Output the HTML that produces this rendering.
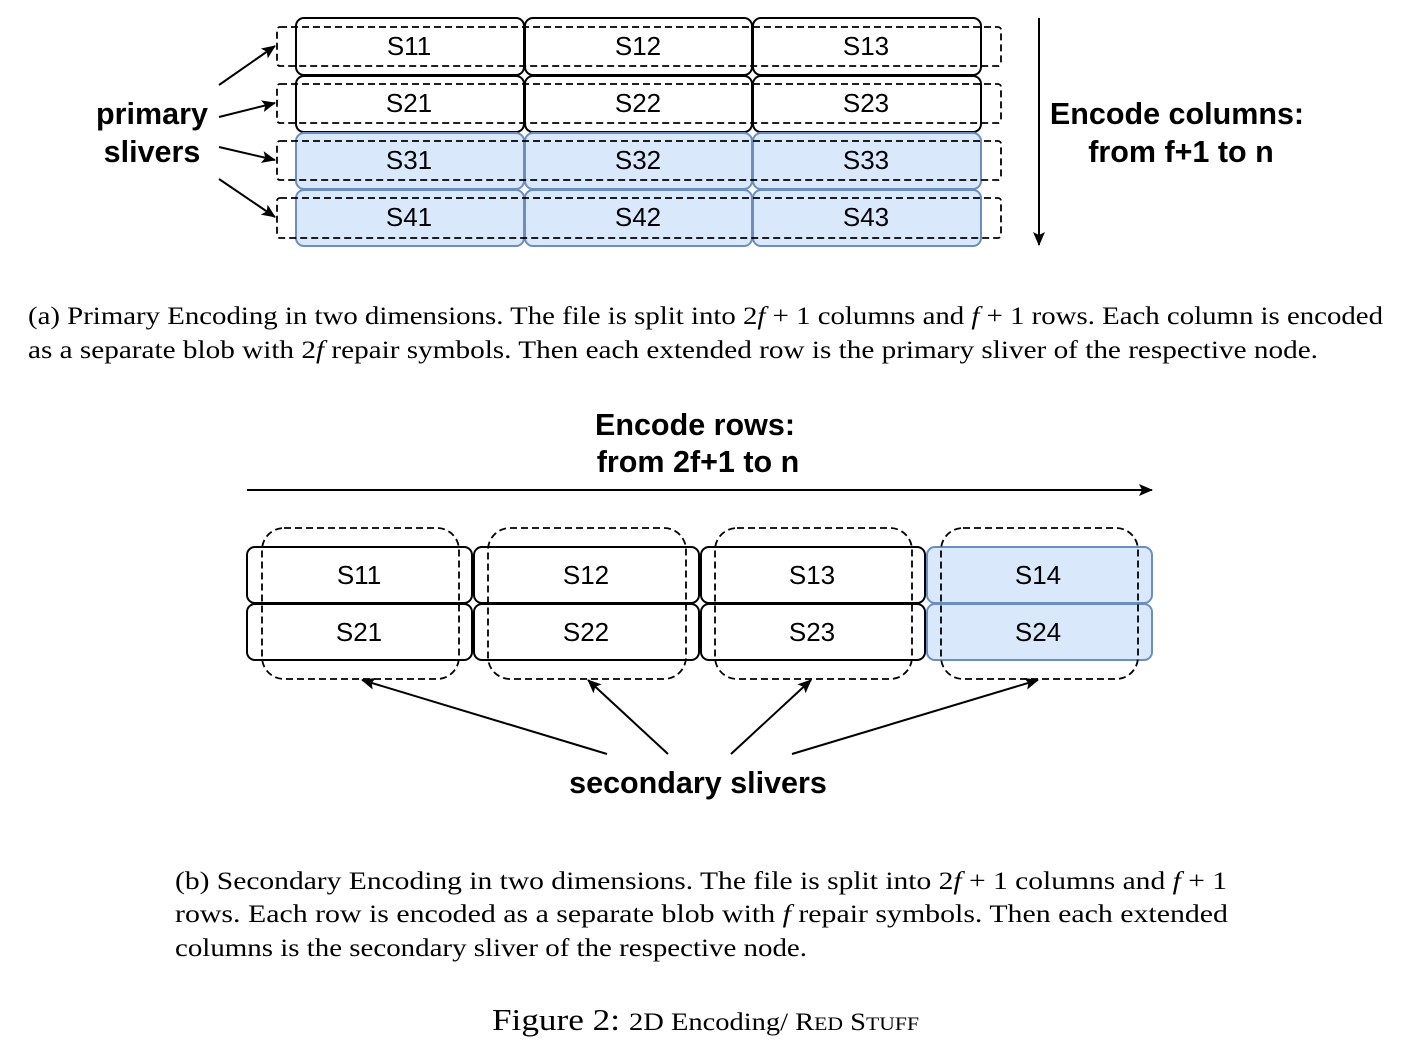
<!DOCTYPE html>
<html><head><meta charset="utf-8"><style>
html,body{margin:0;padding:0;background:#fff;}
svg{display:block;}
.d{font-family:"Liberation Sans",Arial,sans-serif;}
.s{font-family:"Liberation Serif","DejaVu Serif",serif;}
</style></head><body>
<svg width="1401" height="1046" viewBox="0 0 1401 1046" xmlns="http://www.w3.org/2000/svg">
<defs>
<marker id="ah2" markerWidth="14" markerHeight="14" refX="13" refY="7" orient="auto" markerUnits="userSpaceOnUse" viewBox="0 0 14 14">
<path d="M0,1 L14,7 L0,13 L3,7 Z" fill="#000"/>
</marker>
</defs>

<g stroke-width="2">
<rect x="296" y="18" width="228" height="57" rx="8" fill="#fff" stroke="#000"/>
<rect x="525" y="18" width="227" height="57" rx="8" fill="#fff" stroke="#000"/>
<rect x="753" y="18" width="228" height="57" rx="8" fill="#fff" stroke="#000"/>
<rect x="296" y="76" width="228" height="56" rx="8" fill="#fff" stroke="#000"/>
<rect x="525" y="76" width="227" height="56" rx="8" fill="#fff" stroke="#000"/>
<rect x="753" y="76" width="228" height="56" rx="8" fill="#fff" stroke="#000"/>
<rect x="296" y="133" width="228" height="56" rx="8" fill="#dae8fc" stroke="#6c8ebf"/>
<rect x="525" y="133" width="227" height="56" rx="8" fill="#dae8fc" stroke="#6c8ebf"/>
<rect x="753" y="133" width="228" height="56" rx="8" fill="#dae8fc" stroke="#6c8ebf"/>
<rect x="296" y="190" width="228" height="56" rx="8" fill="#dae8fc" stroke="#6c8ebf"/>
<rect x="525" y="190" width="227" height="56" rx="8" fill="#dae8fc" stroke="#6c8ebf"/>
<rect x="753" y="190" width="228" height="56" rx="8" fill="#dae8fc" stroke="#6c8ebf"/>
</g>
<g fill="none" stroke="#000" stroke-width="1.8" stroke-dasharray="7,4">
<rect x="277" y="27" width="724" height="39" rx="3"/>
<rect x="277" y="84" width="724" height="39" rx="3"/>
<rect x="277" y="141" width="724" height="39" rx="3"/>
<rect x="277" y="198" width="724" height="40" rx="3"/>
</g>
<g class="d" font-size="26" text-anchor="middle" fill="#000">
<text x="409" y="55">S11</text><text x="638" y="55">S12</text><text x="866" y="55">S13</text>
<text x="409" y="112">S21</text><text x="638" y="112">S22</text><text x="866" y="112">S23</text>
<text x="409" y="169">S31</text><text x="638" y="169">S32</text><text x="866" y="169">S33</text>
<text x="409" y="226">S41</text><text x="638" y="226">S42</text><text x="866" y="226">S43</text>
</g>
<g stroke="#000" stroke-width="2" marker-end="url(#ah2)">
<line x1="219" y1="85" x2="275" y2="46"/>
<line x1="219" y1="117" x2="275" y2="103"/>
<line x1="219" y1="147" x2="275" y2="160"/>
<line x1="219" y1="179" x2="275" y2="217"/>
</g>
<g class="d" font-size="30.5" font-weight="bold" text-anchor="middle">
<text x="152" y="124">primary</text>
<text x="152" y="162">slivers</text>
</g>
<line x1="1039" y1="18" x2="1039" y2="245" stroke="#000" stroke-width="2" marker-end="url(#ah2)"/>
<g class="d" font-size="30.5" font-weight="bold" text-anchor="middle">
<text x="1177" y="124">Encode columns:</text>
<text x="1181" y="162">from f+1 to n</text>
</g>

<g class="s" font-size="25.5" fill="#000">
<text x="28" y="324" textLength="1355" lengthAdjust="spacingAndGlyphs">(a) Primary Encoding in two dimensions. The file is split into 2<tspan font-style="italic">f</tspan> + 1 columns and <tspan font-style="italic">f</tspan> + 1 rows. Each column is encoded</text>
<text x="28" y="358" textLength="1290" lengthAdjust="spacingAndGlyphs">as a separate blob with 2<tspan font-style="italic">f</tspan> repair symbols. Then each extended row is the primary sliver of the respective node.</text>
</g>

<g class="d" font-size="30.5" font-weight="bold" text-anchor="middle">
<text x="695" y="435">Encode rows:</text>
<text x="698" y="472">from 2f+1 to n</text>
</g>
<line x1="247" y1="490" x2="1152" y2="490" stroke="#000" stroke-width="2" marker-end="url(#ah2)"/>

<g stroke-width="2">
<rect x="247" y="547" width="225" height="56" rx="8" fill="#fff" stroke="#000"/>
<rect x="474" y="547" width="225" height="56" rx="8" fill="#fff" stroke="#000"/>
<rect x="701" y="547" width="224" height="56" rx="8" fill="#fff" stroke="#000"/>
<rect x="927" y="547" width="225" height="56" rx="8" fill="#dae8fc" stroke="#6c8ebf"/>
<rect x="247" y="604" width="225" height="56" rx="8" fill="#fff" stroke="#000"/>
<rect x="474" y="604" width="225" height="56" rx="8" fill="#fff" stroke="#000"/>
<rect x="701" y="604" width="224" height="56" rx="8" fill="#fff" stroke="#000"/>
<rect x="927" y="604" width="225" height="56" rx="8" fill="#dae8fc" stroke="#6c8ebf"/>
</g>
<g fill="none" stroke="#000" stroke-width="1.8" stroke-dasharray="7,4">
<rect x="262" y="528" width="197" height="151" rx="22"/>
<rect x="488" y="528" width="198" height="151" rx="22"/>
<rect x="715" y="528" width="197" height="151" rx="22"/>
<rect x="941" y="528" width="197" height="151" rx="22"/>
</g>
<g class="d" font-size="26" text-anchor="middle">
<text x="359" y="584">S11</text><text x="586" y="584">S12</text><text x="812" y="584">S13</text><text x="1038" y="584">S14</text>
<text x="359" y="641">S21</text><text x="586" y="641">S22</text><text x="812" y="641">S23</text><text x="1038" y="641">S24</text>
</g>
<g stroke="#000" stroke-width="2" marker-end="url(#ah2)">
<line x1="607" y1="754" x2="362" y2="680"/>
<line x1="668" y1="754" x2="588" y2="680"/>
<line x1="731" y1="754" x2="811" y2="680"/>
<line x1="792" y1="754" x2="1038" y2="680"/>
</g>
<text class="d" x="698" y="793" font-size="30.5" font-weight="bold" text-anchor="middle">secondary slivers</text>

<g class="s" font-size="25.5">
<text x="175" y="889" textLength="1052" lengthAdjust="spacingAndGlyphs">(b) Secondary Encoding in two dimensions. The file is split into 2<tspan font-style="italic">f</tspan> + 1 columns and <tspan font-style="italic">f</tspan> + 1</text>
<text x="175" y="922" textLength="1053" lengthAdjust="spacingAndGlyphs">rows. Each row is encoded as a separate blob with <tspan font-style="italic">f</tspan> repair symbols. Then each extended</text>
<text x="175" y="956" textLength="632" lengthAdjust="spacingAndGlyphs">columns is the secondary sliver of the respective node.</text>
</g>
<g class="s">
<text x="492" y="1030" font-size="31" textLength="128" lengthAdjust="spacingAndGlyphs">Figure 2:</text>
<text x="629" y="1030" font-size="25" textLength="290" lengthAdjust="spacingAndGlyphs">2D Encoding/ R<tspan font-size="19">ED</tspan> S<tspan font-size="19">TUFF</tspan></text>
</g>
</svg>
</body></html>
